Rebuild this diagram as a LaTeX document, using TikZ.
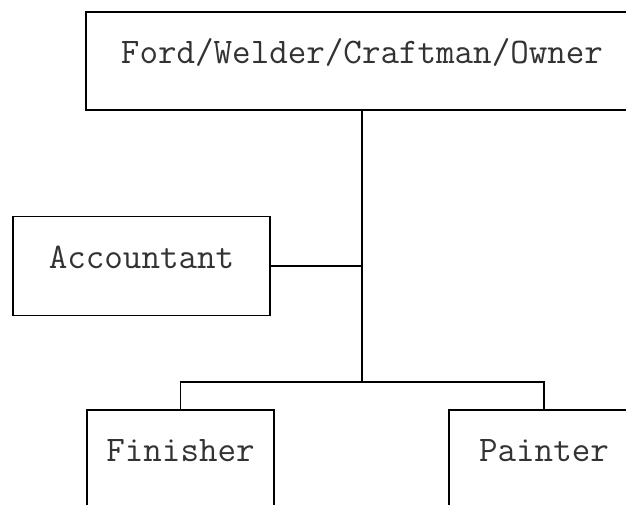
\documentclass[tikz,border=0pt]{standalone}
\usepackage{fontspec}
\begin{document}
\begin{tikzpicture}[x=1pt,y=-1pt,
  box/.style={draw=black, line width=1.6pt, rectangle, inner sep=0pt,
    font=\ttfamily\fontsize{36}{40}\selectfont, text=black!80,
    text height=4pt, text depth=0pt},
  conn/.style={draw=black, line width=1.6pt}]
\useasboundingbox (0,0) rectangle (626,504);
\node[box, minimum width=552pt, minimum height=98pt] (top) at (362,61) {Ford/Welder/Craftman/Owner};
\node[box, minimum width=257pt, minimum height=99pt] (acc) at (141.5,266) {Accountant};
\node[box, minimum width=187pt, minimum height=99pt] (fin) at (180.5,459.5) {Finisher};
\node[box, minimum width=190pt, minimum height=99pt] (pai) at (544,459.5) {Painter};
\coordinate (j) at (362,382);
\draw[conn] (top.south) -- (j);
\draw[conn] (acc.east) -- (acc.east -| j);
\draw[conn] (fin.north) |- (j) -| (pai.north);
\end{tikzpicture}
\end{document}
